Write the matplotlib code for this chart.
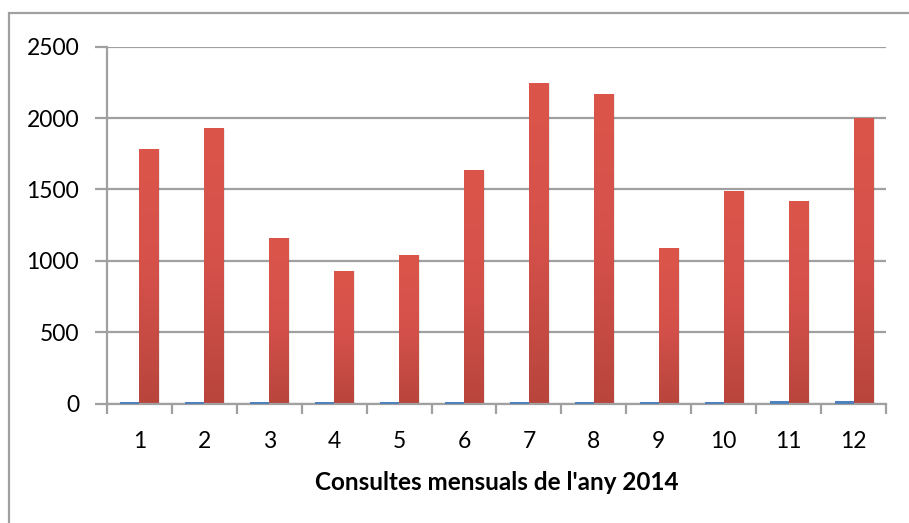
import numpy as np
import matplotlib
matplotlib.use("Agg")
import matplotlib.pyplot as plt
from matplotlib.colors import LinearSegmentedColormap
from matplotlib.patches import Rectangle

# monthly data
months = ["1", "2", "3", "4", "5", "6", "7", "8", "9", "10", "11", "12"]
blue_vals = [12, 12, 12, 12, 12, 12, 12, 12, 14, 14, 22, 22]
red_vals = [1781, 1927, 1157, 928, 1040, 1633, 2243, 2166, 1088, 1487, 1417, 1998]
y_ticks = [0, 500, 1000, 1500, 2000, 2500]
xlabel = "Consultes mensuals de l'any 2014"

plt.rcParams["font.family"] = ["Lato", "DejaVu Sans"]
grey = "#a0a0a0"

fig = plt.figure(figsize=(9.09, 5.23), dpi=100)
ax = fig.add_axes([107 / 909, 1 - 403.7 / 523, 779 / 909, 357 / 523])

# outer chart border (only top and left visible)
fig.patches.append(Rectangle((9 / 909, -0.1), 1.2, 1 - 13 / 523 + 0.1,
                             transform=fig.transFigure, fill=False,
                             edgecolor=grey, linewidth=1.6, zorder=0))

bw = 0.293
x = np.arange(len(months))
red_cmap = LinearSegmentedColormap.from_list("red", ["#b8453c", "#d4514a", "#dc554b"])
grad = np.linspace(0, 1, 256).reshape(-1, 1)

ax.bar(x - bw / 2, blue_vals, width=bw, color="#4f81bd", zorder=5)
for xi, v in zip(x, red_vals):
    # soft shadow
    ax.bar(xi + bw / 2 + 0.03, v, width=bw, color="#000000", alpha=0.08, zorder=2)
    ax.imshow(grad, cmap=red_cmap, origin="lower", aspect="auto",
              extent=[xi, xi + bw, 0, v], zorder=3, interpolation="bilinear")

ax.set_xlim(-0.5, len(months) - 0.5)
ax.set_ylim(0, 2500)
ax.set_yticks(y_ticks)
ax.set_yticklabels([str(t) for t in y_ticks])
ax.yaxis.grid(True, color=grey, linewidth=1.6, zorder=1)
ax.set_axisbelow(True)

# tick marks at category boundaries, labels at centres
ax.set_xticks(np.arange(-0.5, len(months), 1.0))
ax.set_xticklabels([])
ax.set_xticks(x, minor=True)
ax.set_xticklabels(months, minor=True)
ax.tick_params(axis="x", which="major", length=7, width=1.6, color=grey)
ax.tick_params(axis="x", which="minor", length=0, pad=20, labelsize=16.5)
ax.tick_params(axis="y", length=9, width=1.6, color=grey, pad=11, labelsize=16.5)

for s in ["top", "right"]:
    ax.spines[s].set_visible(False)
for s in ["left", "bottom"]:
    ax.spines[s].set_color(grey)
    ax.spines[s].set_linewidth(1.6)
    ax.spines[s].set_zorder(4)

ax.set_xlabel(xlabel, fontsize=17.5, fontweight="bold", labelpad=13)

fig.savefig("out.png", dpi=100)
